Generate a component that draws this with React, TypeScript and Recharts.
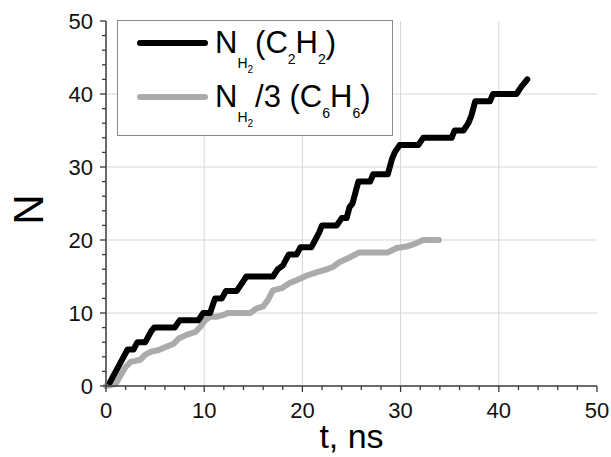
import React from 'react';
import { LineChart, Line, XAxis, YAxis, CartesianGrid } from 'recharts';

// N_H2 for C2H2 (black)
const tC2H2 = [0.4, 1.0, 1.6, 2.2, 2.8, 3.2, 4.0, 4.6, 4.9, 7.0, 7.5, 9.4, 9.9, 10.6, 11.1, 11.8, 12.2, 13.3, 13.8, 14.3, 17.0, 17.5, 18.0, 18.6, 19.4, 19.8, 20.9, 21.3, 21.7, 22.0, 23.5, 24.0, 24.5, 24.8, 25.1, 25.7, 26.9, 27.2, 28.7, 29.1, 29.4, 29.9, 31.8, 32.3, 35.2, 35.5, 36.4, 36.9, 37.2, 37.6, 39.1, 39.4, 41.8, 42.3, 42.6, 42.9];
const nC2H2 = [0.5, 2, 3.5, 5, 5, 6, 6, 7.5, 8, 8, 9, 9, 10, 10, 12, 12, 13, 13, 14, 15, 15, 16, 16.5, 18, 18, 19, 19, 20, 21, 22, 22, 23, 23, 24.5, 25, 28, 28, 29, 29, 31, 32, 33, 33, 34, 34, 35, 35, 36, 37, 39, 39, 40, 40, 41, 41.5, 42];

// N_H2/3 for C6H6 (grey)
const tC6H6 = [0, 1.0, 1.5, 2.0, 2.5, 3.5, 4.0, 4.6, 5.3, 6.2, 6.9, 7.4, 8.2, 9.1, 9.6, 10.1, 10.6, 11.3, 11.9, 12.4, 14.7, 15.3, 16.0, 16.5, 17.0, 17.9, 18.7, 19.4, 20.4, 21.5, 22.3, 23.1, 23.8, 24.8, 25.8, 28.7, 29.6, 30.6, 31.5, 32.3, 33.9];
const nC6H6 = [0, 0.3, 1.5, 2.6, 3.3, 3.6, 4.3, 4.7, 4.9, 5.4, 5.8, 6.5, 7.0, 7.4, 8.1, 9.0, 9.5, 9.5, 9.7, 10, 10, 10.6, 10.9, 11.8, 13.1, 13.4, 14.1, 14.5, 15.1, 15.6, 15.9, 16.3, 17.0, 17.6, 18.3, 18.3, 18.9, 19.1, 19.5, 20, 20];

const axisTicks = [0, 2, 4, 6, 8, 10, 12, 14, 16, 18, 20, 22, 24, 26, 28, 30, 32, 34, 36, 38, 40, 42, 44, 46, 48, 50];
const gridValues = [10, 20, 30, 40];

const c2h2 = tC2H2.map((t, i) => ({ t, n: nC2H2[i] }));
const c6h6 = tC6H6.map((t, i) => ({ t, n: nC6H6[i] }));

const FONT = 'Arial, Liberation Sans, sans-serif';
const AXIS = '#3a3a3a';

const XTick = (props: any) => {
  const { x, y, payload } = props;
  const major = payload.value % 10 === 0;
  return (
    <g>
      <line x1={x} x2={x} y1={y} y2={y + (major ? 6 : 4)} stroke={AXIS} strokeWidth={1.3} />
      {major && (
        <text x={x} y={y + 32} textAnchor="middle" fontSize={22} fill="#111" fontFamily={FONT}>
          {payload.value}
        </text>
      )}
    </g>
  );
};

const YTick = (props: any) => {
  const { x, y, payload } = props;
  const major = payload.value % 10 === 0;
  return (
    <g>
      <line x1={x - (major ? 6 : 4)} x2={x} y1={y} y2={y} stroke={AXIS} strokeWidth={1.3} />
      {major && (
        <text x={x - 13} y={y} dy="0.36em" textAnchor="end" fontSize={22} fill="#111" fontFamily={FONT}>
          {payload.value}
        </text>
      )}
    </g>
  );
};

const YTitle = (props: any) => {
  const { x, y, height } = props.viewBox;
  const cx = x + 28;
  const cy = y + height / 2 + 6;
  return (
    <text
      x={cx}
      y={cy}
      transform={`rotate(-90 ${cx} ${cy})`}
      textAnchor="middle"
      dominantBaseline="central"
      fontSize={42}
      fontFamily={FONT}
      fill="#000"
    >
      N
    </text>
  );
};

// legend box drawn over the chart, top-left of the plot
const LegendBox = () => (
  <svg width={276} height={116} style={{ position: 'absolute', left: 117, top: 20, display: 'block' }}>
    <rect x={0.5} y={0.5} width={275} height={115} fill="#fff" stroke="#8a8a8a" />
    <line x1={23} x2={88} y1={23} y2={23} stroke="#000" strokeWidth={6} strokeLinecap="round" />
    <line x1={23} x2={88} y1={77} y2={77} stroke="#ababab" strokeWidth={6} strokeLinecap="round" />
    <text x={98} y={33} fontSize={31} fontFamily={FONT} fill="#000">
      N<tspan fontSize={14} dy={15}>H</tspan>
      <tspan fontSize={10} dy={5}>2</tspan>
      <tspan fontSize={31} dy={-20} dx={2}>(C</tspan>
      <tspan fontSize={14} dy={11}>2</tspan>
      <tspan fontSize={31} dy={-11}>H</tspan>
      <tspan fontSize={14} dy={11}>2</tspan>
      <tspan fontSize={31} dy={-11}>)</tspan>
    </text>
    <text x={98} y={87} fontSize={31} fontFamily={FONT} fill="#000">
      N<tspan fontSize={14} dy={15}>H</tspan>
      <tspan fontSize={10} dy={5}>2</tspan>
      <tspan fontSize={31} dy={-20} dx={2}>/3 (C</tspan>
      <tspan fontSize={14} dy={11}>6</tspan>
      <tspan fontSize={31} dy={-11}>H</tspan>
      <tspan fontSize={14} dy={11}>6</tspan>
      <tspan fontSize={31} dy={-11}>)</tspan>
    </text>
  </svg>
);

export default function App() {
  return (
    <div style={{ position: 'absolute', left: 0, top: 0, width: 611, height: 457, background: '#fff' }}>
      <LineChart width={611} height={457} margin={{ top: 21, right: 14, left: 0, bottom: 0 }}>
        <CartesianGrid stroke="#d6d6d6" horizontalValues={gridValues} verticalValues={gridValues} />
        <XAxis
          type="number"
          dataKey="t"
          domain={[0, 50]}
          ticks={axisTicks}
          interval={0}
          height={71}
          tickSize={0}
          tickMargin={0}
          tickLine={false}
          tick={<XTick />}
          axisLine={{ stroke: AXIS, strokeWidth: 1.5 }}
          label={{ value: 't, ns', position: 'insideBottom', offset: 9, fontSize: 34, fill: '#000', fontFamily: FONT }}
        />
        <YAxis
          type="number"
          domain={[0, 50]}
          ticks={axisTicks}
          interval={0}
          width={106}
          tickSize={0}
          tickMargin={0}
          tickLine={false}
          tick={<YTick />}
          axisLine={{ stroke: AXIS, strokeWidth: 1.5 }}
          label={<YTitle />}
        />
        <Line
          data={c6h6}
          dataKey="n"
          type="linear"
          stroke="#ababab"
          strokeWidth={6}
          strokeLinejoin="round"
          strokeLinecap="round"
          dot={false}
          isAnimationActive={false}
        />
        <Line
          data={c2h2}
          dataKey="n"
          type="linear"
          stroke="#000"
          strokeWidth={6}
          strokeLinejoin="round"
          strokeLinecap="round"
          dot={false}
          isAnimationActive={false}
        />
      </LineChart>
      <LegendBox />
    </div>
  );
}
